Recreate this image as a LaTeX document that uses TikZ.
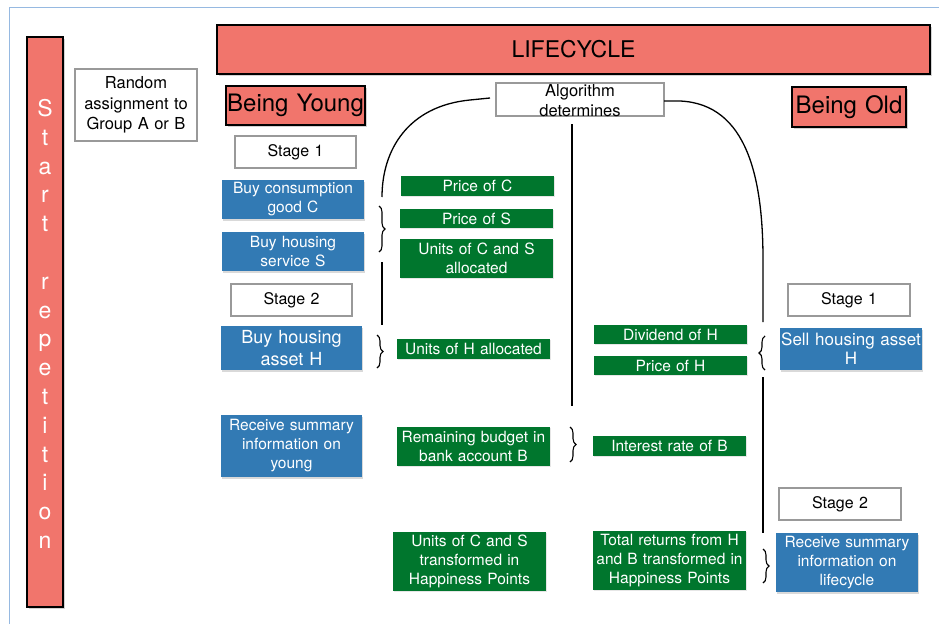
\documentclass[tikz,border=0pt]{standalone}
\usepackage{fontspec}
\setmainfont{TeX Gyre Heros}
\usepackage{xcolor}
\usetikzlibrary{positioning,shadows,decorations.pathreplacing}
\definecolor{salmon}{RGB}{241,117,108}
\definecolor{bluebox}{RGB}{50,122,180}
\definecolor{greenbox}{RGB}{0,118,45}
\definecolor{framecol}{RGB}{150,185,225}

\begin{document}
\begin{tikzpicture}[x=1pt,y=-1pt,
  wh/.style 2 args={minimum width=#1, minimum height=#2, text width=#1, inner sep=0pt, outer sep=0pt, align=center},
  redbox/.style={draw=black, line width=1.6pt, fill=salmon, drop shadow={shadow xshift=1.5pt, shadow yshift=-1.5pt, opacity=0.35}},
  whitebox/.style={draw=black!40, line width=1.3pt, fill=white, font=\fontsize{16}{19}\selectfont},
  bluebox/.style={fill=bluebox, text=white, font=\fontsize{15.5}{19}\selectfont, drop shadow={shadow xshift=1pt, shadow yshift=-1.5pt, opacity=0.3}},
  greenbox/.style={fill=greenbox, text=white, font=\fontsize{15.5}{19}\selectfont, drop shadow={shadow xshift=1pt, shadow yshift=-1pt, opacity=0.2}},
  link/.style={black, line width=1.3pt},
  bracket/.style={black, line width=1.1pt, decorate, decoration={brace, amplitude=6pt}}]
\useasboundingbox (0,0) rectangle (939,624);
\draw[framecol, line width=0.8pt] (9,624) -- (9,7) -- (939,7);

% left bar and title
\node[redbox, wh={36}{570}] (rep) at (45,322) {};
\node[text=white, align=center, font=\fontsize{23}{28.8}\selectfont] (reptxt) at (45,324) {S\\t\\a\\r\\t\\[28.8pt]r\\e\\p\\e\\t\\i\\t\\i\\o\\n};
\node[whitebox, wh={122}{72}, font=\fontsize{16.5}{20.5}\selectfont] (random) at (136,105) {Random\\assignment to\\Group A or B};
\node[redbox, wh={713}{49}, font=\fontsize{23}{27}\selectfont] (life) at (573.5,49.5) {LIFECYCLE};
\node[redbox, wh={139}{39}, font=\fontsize{24}{28}\selectfont] (young) at (295.5,105.5) {Being Young};
\node[redbox, wh={114}{40}, font=\fontsize{24}{28}\selectfont] (old) at (849,107) {Being Old};
\node[whitebox, wh={168}{33}] (algo) at (580,99.5) {};
\node[align=center, font=\fontsize{16.5}{20}\selectfont] (algotxt) at (580,101) {Algorithm\\determines};

% young
\node[whitebox, wh={121}{32}] (stageya) at (295.5,152) {Stage 1};
\node[bluebox, wh={142}{39}] (buyc) at (293,199.5) {Buy consumption\\good C};
\node[bluebox, wh={142}{39}] (buys) at (293,251.5) {Buy housing\\service S};
\node[whitebox, wh={121}{32}] (stageyb) at (291.5,300) {Stage 2};
\node[bluebox, wh={141}{44}, font=\fontsize{18}{22}\selectfont] (buyh) at (291.5,348) {Buy housing\\asset H};
\node[bluebox, wh={141}{62}] (recvy) at (291.5,446) {Receive summary\\information on\\young};

\node[greenbox, wh={153}{20}] (pricec) at (477.5,186) {Price of C};
\node[greenbox, wh={153}{19}] (prices) at (476.5,218.5) {Price of S};
\node[greenbox, wh={153}{39}] (unitscs) at (476.5,258.5) {Units of C and S\\allocated};
\node[greenbox, wh={153}{20}] (unitsh) at (473.5,349) {Units of H allocated};
\node[greenbox, wh={153}{39}] (budget) at (473.5,446.5) {Remaining budget in\\bank account B};
\node[greenbox, wh={153}{59}] (happycs) at (469.5,561.5) {Units of C and S\\transformed in\\Happiness Points};

% old
\node[greenbox, wh={153}{19}] (divh) at (670.5,334.5) {Dividend of H};
\node[greenbox, wh={153}{19}] (priceh) at (670.5,365.5) {Price of H};
\node[greenbox, wh={153}{20}] (rateb) at (669.5,446) {Interest rate of B};
\node[greenbox, wh={153}{59}] (total) at (669.5,560.5) {Total returns from H\\and B transformed in\\Happiness Points};

\node[whitebox, wh={122}{32}] (stageoa) at (849,300) {Stage 1};
\node[bluebox, wh={142}{42}, font=\fontsize{17}{19}\selectfont] (sell) at (851,349) {Sell housing asset\\H};
\node[whitebox, wh={122}{32}] (stageob) at (840,504) {Stage 2};
\node[bluebox, wh={142}{59}] (recvo) at (847,562.5) {Receive summary\\information on\\lifecycle};

% connectors
\coordinate (lefttop) at (382,197);
\coordinate (leftmid) at (382,262);
\coordinate (leftend) at (382,325);
\coordinate (midtop) at (572,124);
\coordinate (midend) at (572,406);
\coordinate (righttop) at (763,322);
\coordinate (rightmid) at (763,377);
\coordinate (rightend) at (763,533);
\draw[link] ([xshift=-6pt, yshift=1.5pt]algo.west) -- (470,100) .. controls (408,106) and (382,150) .. (lefttop);
\draw[link] (leftmid) -- (leftend);
\draw[link] (midtop) -- (midend);
\draw[link] ([yshift=-1.5pt]algo.east) -- (680,101) .. controls (748,104) and (763,180) .. (763,260) -- (righttop);
\draw[link] (rightmid) -- (rightend);

% braces
\draw[bracket] (379,206) -- (379,252);
\draw[bracket] (377,335) -- (377,368);
\draw[bracket] (570,427) -- (570,462);
\draw[bracket] (765,370) -- (765,336);
\draw[bracket] (763,549) -- (763,583);
\end{tikzpicture}
\end{document}
